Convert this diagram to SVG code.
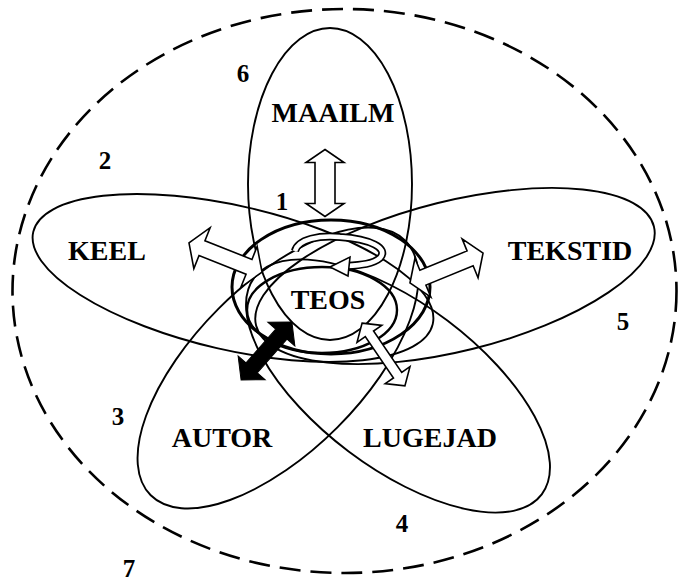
<svg xmlns="http://www.w3.org/2000/svg" width="679" height="581" viewBox="0 0 679 581">
<style>
.petal{fill:none;stroke:#000;stroke-width:1.9}
.thick{fill:none;stroke:#000;stroke-width:3}
.inner{fill:none;stroke:#000;stroke-width:2.4}
.outer{fill:none;stroke:#000;stroke-width:2.6;stroke-dasharray:21 10}
.open{fill:#fff;stroke:#000;stroke-width:1.6;stroke-linejoin:miter}
.solid{fill:#000;stroke:#000;stroke-width:1}
.lbl{font-family:"Liberation Serif","Times New Roman",serif;font-weight:bold;font-size:28px;fill:#000;text-anchor:middle}
.num{font-family:"Liberation Serif","Times New Roman",serif;font-weight:bold;font-size:25px;fill:#000;text-anchor:middle}
</style>
<rect width="679" height="581" fill="#fff"/>
<g id="outer-boundary">
<ellipse class="outer" cx="344.5" cy="291" rx="332" ry="282"/>
<text class="num" x="129" y="577">7</text>
</g>
<g id="node-maailm">
<ellipse class="petal" cx="330" cy="184" rx="82" ry="156"/>
<text class="lbl" x="333" y="122">MAAILM</text>
<text class="num" x="243" y="82">6</text>
</g>
<g id="node-keel">
<ellipse class="petal" cx="233" cy="278" rx="205" ry="72" transform="rotate(13 233 278)"/>
<text class="lbl" x="107" y="260">KEEL</text>
<text class="num" x="105" y="169">2</text>
</g>
<g id="node-tekstid">
<ellipse class="petal" cx="455" cy="276" rx="205" ry="75" transform="rotate(-14 455 276)"/>
<text class="lbl" x="570" y="260">TEKSTID</text>
<text class="num" x="623" y="330">5</text>
</g>
<g id="node-autor">
<ellipse class="petal" cx="278" cy="368" rx="180" ry="84" transform="rotate(-45 278 368)"/>
<text class="lbl" x="222" y="447">AUTOR</text>
<text class="num" x="118" y="425">3</text>
</g>
<g id="node-lugejad">
<ellipse class="petal" cx="398" cy="386" rx="180" ry="82" transform="rotate(37 398 386)"/>
<text class="lbl" x="430" y="447">LUGEJAD</text>
<text class="num" x="402" y="532">4</text>
</g>
<g id="node-teos">
<ellipse class="thick" cx="331" cy="287" rx="99" ry="67"/>
<ellipse class="inner" cx="322" cy="310" rx="75" ry="43"/>
<text class="lbl" x="328" y="309">TEOS</text>
<text class="num" x="282" y="210">1</text>
</g>
<g id="connectors">
<polygon class="open" transform="translate(325 183) rotate(90)" points="-33.5,0 -20.5,-19 -20.5,-10 20.5,-10 20.5,-19 33.5,0 20.5,19 20.5,10 -20.5,10 -20.5,19"/>
<polygon class="open" transform="translate(225.5 257.5) rotate(21.7)" points="-39.3,0 -25.3,-22 -25.3,-8 25.3,-8 25.3,-22 39.3,0 25.3,22 25.3,8 -25.3,8 -25.3,22"/>
<polygon class="open" transform="translate(446.5 268) rotate(-22.3)" points="-39.5,0 -25.5,-21 -25.5,-8 25.5,-8 25.5,-21 39.5,0 25.5,21 25.5,8 -25.5,8 -25.5,21"/>
<polygon class="open" transform="translate(383.5 354.5) rotate(55.7)" points="-38,0 -25,-15 -25,-5 25,-5 25,-15 38,0 25,15 25,5 -25,5 -25,15"/>
<polygon class="solid" transform="translate(266.5 351) rotate(131.3)" points="-38.5,0 -22.5,-18 -22.5,-7.5 22.5,-7.5 22.5,-18 38.5,0 22.5,18 22.5,7.5 -22.5,7.5 -22.5,18"/>
<path d="M 295 251 C 298 239, 320 235, 340 237 C 370 239, 389 248, 380 258 C 373 264, 362 265, 346 266" fill="none" stroke="#000" stroke-width="8"/>
<path d="M 295 251 C 298 239, 320 235, 340 237 C 370 239, 389 248, 380 258 C 373 264, 362 265, 346 266" fill="none" stroke="#fff" stroke-width="4.6"/>
<polygon class="open" points="330,267 350,257 348,276"/>
</g>
</svg>
